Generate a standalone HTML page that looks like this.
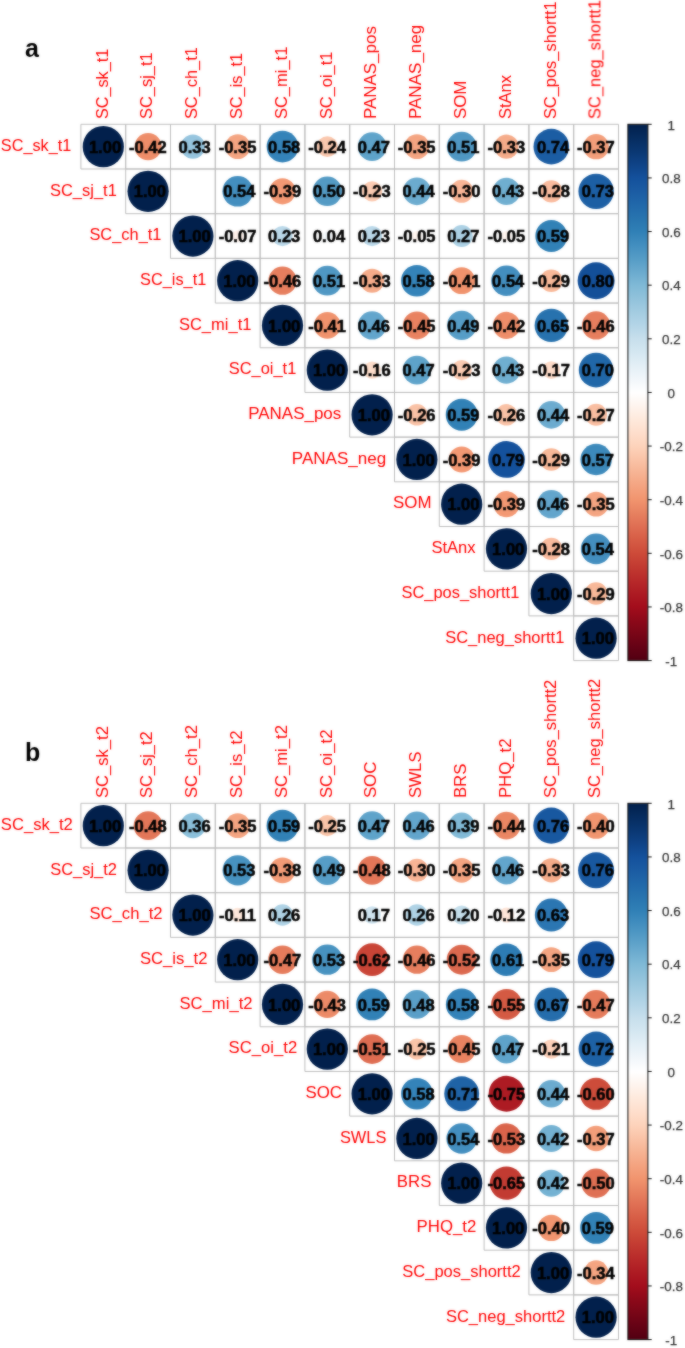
<!DOCTYPE html>
<html><head><meta charset="utf-8"><style>
html,body{margin:0;padding:0;background:#fff;}
svg{display:block;}
text{font-family:"Liberation Sans",sans-serif;}
.n{font-size:16px;font-weight:bold;fill:#000;stroke:#000;stroke-width:0.5px;text-anchor:middle;}
.rl{font-size:16.5px;fill:#FF0000;text-anchor:end;}
.cl{font-size:16.5px;fill:#FF0000;text-anchor:start;}
.cb{font-size:13.4px;fill:#333;stroke:#333;stroke-width:0.25px;text-anchor:middle;}
</style></head><body>
<svg width="685" height="1348" viewBox="0 0 685 1348">
<defs><filter id="soft" color-interpolation-filters="sRGB" x="0" y="0" width="100%" height="100%" filterUnits="userSpaceOnUse"><feGaussianBlur in="SourceGraphic" stdDeviation="0.8" result="b"/><feComposite in="SourceGraphic" in2="b" operator="arithmetic" k1="0" k2="0.5" k3="0.5" k4="0"/></filter><linearGradient id="cb" x1="0" y1="0" x2="0" y2="1"><stop offset="0.000" stop-color="#02204C"/><stop offset="0.025" stop-color="#062C5F"/><stop offset="0.050" stop-color="#0A3772"/><stop offset="0.075" stop-color="#0F4387"/><stop offset="0.100" stop-color="#14519C"/><stop offset="0.125" stop-color="#1B5CA3"/><stop offset="0.150" stop-color="#2168AA"/><stop offset="0.175" stop-color="#2874AF"/><stop offset="0.200" stop-color="#3080B6"/><stop offset="0.225" stop-color="#428EBF"/><stop offset="0.250" stop-color="#559CC6"/><stop offset="0.275" stop-color="#6AAACE"/><stop offset="0.300" stop-color="#7FB9D6"/><stop offset="0.325" stop-color="#91C2DB"/><stop offset="0.350" stop-color="#A3CCE1"/><stop offset="0.375" stop-color="#B4D5E7"/><stop offset="0.400" stop-color="#C7DFEC"/><stop offset="0.425" stop-color="#D4E7F1"/><stop offset="0.450" stop-color="#E3EFF6"/><stop offset="0.475" stop-color="#F1F6FA"/><stop offset="0.500" stop-color="#FFFFFF"/><stop offset="0.525" stop-color="#FEF4EE"/><stop offset="0.550" stop-color="#FEE9DC"/><stop offset="0.575" stop-color="#FEDECC"/><stop offset="0.600" stop-color="#FDD3BB"/><stop offset="0.625" stop-color="#FAC3A7"/><stop offset="0.650" stop-color="#F6B393"/><stop offset="0.675" stop-color="#F4A380"/><stop offset="0.700" stop-color="#F1946E"/><stop offset="0.725" stop-color="#E78160"/><stop offset="0.750" stop-color="#DF6E53"/><stop offset="0.775" stop-color="#D65C45"/><stop offset="0.800" stop-color="#CD4B39"/><stop offset="0.825" stop-color="#C23A31"/><stop offset="0.850" stop-color="#B82A2A"/><stop offset="0.875" stop-color="#AD1B23"/><stop offset="0.900" stop-color="#A30D1C"/><stop offset="0.925" stop-color="#8D0919"/><stop offset="0.950" stop-color="#790617"/><stop offset="0.975" stop-color="#650215"/><stop offset="1.000" stop-color="#520012"/></linearGradient></defs>
<g filter="url(#soft)"><rect width="685" height="1348" fill="#fff"/>
<text x="24.9" y="57" font-size="25" font-weight="bold" fill="#000">a</text>
<path d="M80.90,124.30h44.80v44.69h-44.80zM125.70,124.30h44.80v44.69h-44.80zM170.50,124.30h44.80v44.69h-44.80zM215.30,124.30h44.80v44.69h-44.80zM260.10,124.30h44.80v44.69h-44.80zM304.90,124.30h44.80v44.69h-44.80zM349.70,124.30h44.80v44.69h-44.80zM394.50,124.30h44.80v44.69h-44.80zM439.30,124.30h44.80v44.69h-44.80zM484.10,124.30h44.80v44.69h-44.80zM528.90,124.30h44.80v44.69h-44.80zM573.70,124.30h44.80v44.69h-44.80zM125.70,168.99h44.80v44.69h-44.80zM170.50,168.99h44.80v44.69h-44.80zM215.30,168.99h44.80v44.69h-44.80zM260.10,168.99h44.80v44.69h-44.80zM304.90,168.99h44.80v44.69h-44.80zM349.70,168.99h44.80v44.69h-44.80zM394.50,168.99h44.80v44.69h-44.80zM439.30,168.99h44.80v44.69h-44.80zM484.10,168.99h44.80v44.69h-44.80zM528.90,168.99h44.80v44.69h-44.80zM573.70,168.99h44.80v44.69h-44.80zM170.50,213.68h44.80v44.69h-44.80zM215.30,213.68h44.80v44.69h-44.80zM260.10,213.68h44.80v44.69h-44.80zM304.90,213.68h44.80v44.69h-44.80zM349.70,213.68h44.80v44.69h-44.80zM394.50,213.68h44.80v44.69h-44.80zM439.30,213.68h44.80v44.69h-44.80zM484.10,213.68h44.80v44.69h-44.80zM528.90,213.68h44.80v44.69h-44.80zM573.70,213.68h44.80v44.69h-44.80zM215.30,258.37h44.80v44.69h-44.80zM260.10,258.37h44.80v44.69h-44.80zM304.90,258.37h44.80v44.69h-44.80zM349.70,258.37h44.80v44.69h-44.80zM394.50,258.37h44.80v44.69h-44.80zM439.30,258.37h44.80v44.69h-44.80zM484.10,258.37h44.80v44.69h-44.80zM528.90,258.37h44.80v44.69h-44.80zM573.70,258.37h44.80v44.69h-44.80zM260.10,303.06h44.80v44.69h-44.80zM304.90,303.06h44.80v44.69h-44.80zM349.70,303.06h44.80v44.69h-44.80zM394.50,303.06h44.80v44.69h-44.80zM439.30,303.06h44.80v44.69h-44.80zM484.10,303.06h44.80v44.69h-44.80zM528.90,303.06h44.80v44.69h-44.80zM573.70,303.06h44.80v44.69h-44.80zM304.90,347.75h44.80v44.69h-44.80zM349.70,347.75h44.80v44.69h-44.80zM394.50,347.75h44.80v44.69h-44.80zM439.30,347.75h44.80v44.69h-44.80zM484.10,347.75h44.80v44.69h-44.80zM528.90,347.75h44.80v44.69h-44.80zM573.70,347.75h44.80v44.69h-44.80zM349.70,392.44h44.80v44.69h-44.80zM394.50,392.44h44.80v44.69h-44.80zM439.30,392.44h44.80v44.69h-44.80zM484.10,392.44h44.80v44.69h-44.80zM528.90,392.44h44.80v44.69h-44.80zM573.70,392.44h44.80v44.69h-44.80zM394.50,437.13h44.80v44.69h-44.80zM439.30,437.13h44.80v44.69h-44.80zM484.10,437.13h44.80v44.69h-44.80zM528.90,437.13h44.80v44.69h-44.80zM573.70,437.13h44.80v44.69h-44.80zM439.30,481.82h44.80v44.69h-44.80zM484.10,481.82h44.80v44.69h-44.80zM528.90,481.82h44.80v44.69h-44.80zM573.70,481.82h44.80v44.69h-44.80zM484.10,526.51h44.80v44.69h-44.80zM528.90,526.51h44.80v44.69h-44.80zM573.70,526.51h44.80v44.69h-44.80zM528.90,571.20h44.80v44.69h-44.80zM573.70,571.20h44.80v44.69h-44.80zM573.70,615.89h44.80v44.69h-44.80z" fill="#fff" stroke="#BEBEBE" stroke-width="1"/>
<circle cx="103.30" cy="146.64" r="20.61" fill="#02204C"/>
<circle cx="148.10" cy="146.64" r="13.53" fill="#EE8D69"/>
<circle cx="192.90" cy="146.64" r="12.05" fill="#95C4DE"/>
<circle cx="237.70" cy="146.64" r="12.40" fill="#F4A481"/>
<circle cx="282.50" cy="146.64" r="15.82" fill="#3483B9"/>
<circle cx="327.30" cy="146.64" r="10.35" fill="#FAC7AD"/>
<circle cx="372.10" cy="146.64" r="14.29" fill="#5EA3CA"/>
<circle cx="416.90" cy="146.64" r="12.40" fill="#F4A481"/>
<circle cx="461.70" cy="146.64" r="14.86" fill="#4F97C3"/>
<circle cx="506.50" cy="146.64" r="12.05" fill="#F5AB89"/>
<circle cx="551.30" cy="146.64" r="17.80" fill="#1B5DA3"/>
<circle cx="596.10" cy="146.64" r="12.73" fill="#F39E7A"/>
<circle cx="148.10" cy="191.33" r="20.61" fill="#02204C"/>
<circle cx="237.70" cy="191.33" r="15.28" fill="#438EBF"/>
<circle cx="282.50" cy="191.33" r="13.06" fill="#F39873"/>
<circle cx="327.30" cy="191.33" r="14.72" fill="#539AC4"/>
<circle cx="372.10" cy="191.33" r="10.14" fill="#FBCAB1"/>
<circle cx="416.90" cy="191.33" r="13.84" fill="#6BABCF"/>
<circle cx="461.70" cy="191.33" r="11.51" fill="#F8B495"/>
<circle cx="506.50" cy="191.33" r="13.69" fill="#6FAED0"/>
<circle cx="551.30" cy="191.33" r="11.14" fill="#F9BA9D"/>
<circle cx="596.10" cy="191.33" r="17.68" fill="#1C5FA4"/>
<circle cx="192.90" cy="236.02" r="20.61" fill="#02204C"/>
<circle cx="237.70" cy="236.02" r="5.82" fill="#FEF0E9"/>
<circle cx="282.50" cy="236.02" r="10.14" fill="#BAD8E9"/>
<circle cx="327.30" cy="236.02" r="4.52" fill="#F3F8FB"/>
<circle cx="372.10" cy="236.02" r="10.14" fill="#BAD8E9"/>
<circle cx="416.90" cy="236.02" r="5.00" fill="#FFF5EF"/>
<circle cx="461.70" cy="236.02" r="10.95" fill="#ABD0E4"/>
<circle cx="506.50" cy="236.02" r="5.00" fill="#FFF5EF"/>
<circle cx="551.30" cy="236.02" r="15.95" fill="#3181B6"/>
<circle cx="237.70" cy="280.71" r="20.61" fill="#02204C"/>
<circle cx="282.50" cy="280.71" r="14.14" fill="#E67E5E"/>
<circle cx="327.30" cy="280.71" r="14.86" fill="#4F97C3"/>
<circle cx="372.10" cy="280.71" r="12.05" fill="#F5AB89"/>
<circle cx="416.90" cy="280.71" r="15.82" fill="#3483B9"/>
<circle cx="461.70" cy="280.71" r="13.38" fill="#F0926C"/>
<circle cx="506.50" cy="280.71" r="15.28" fill="#438EBF"/>
<circle cx="551.30" cy="280.71" r="11.33" fill="#F8B898"/>
<circle cx="596.10" cy="280.71" r="18.49" fill="#134F98"/>
<circle cx="282.50" cy="325.40" r="20.61" fill="#02204C"/>
<circle cx="327.30" cy="325.40" r="13.38" fill="#F0926C"/>
<circle cx="372.10" cy="325.40" r="14.14" fill="#62A5CC"/>
<circle cx="416.90" cy="325.40" r="13.99" fill="#E98260"/>
<circle cx="461.70" cy="325.40" r="14.58" fill="#569DC7"/>
<circle cx="506.50" cy="325.40" r="13.53" fill="#EE8D69"/>
<circle cx="551.30" cy="325.40" r="16.71" fill="#2772AE"/>
<circle cx="596.10" cy="325.40" r="14.14" fill="#E67E5E"/>
<circle cx="327.30" cy="370.09" r="20.61" fill="#02204C"/>
<circle cx="372.10" cy="370.09" r="8.54" fill="#FDDCC9"/>
<circle cx="416.90" cy="370.09" r="14.29" fill="#5EA3CA"/>
<circle cx="461.70" cy="370.09" r="10.14" fill="#FBCAB1"/>
<circle cx="506.50" cy="370.09" r="13.69" fill="#6FAED0"/>
<circle cx="551.30" cy="370.09" r="8.79" fill="#FDDAC7"/>
<circle cx="596.10" cy="370.09" r="17.33" fill="#2067A8"/>
<circle cx="372.10" cy="414.79" r="20.61" fill="#02204C"/>
<circle cx="416.90" cy="414.79" r="10.75" fill="#F9C1A5"/>
<circle cx="461.70" cy="414.79" r="15.95" fill="#3181B6"/>
<circle cx="506.50" cy="414.79" r="10.75" fill="#F9C1A5"/>
<circle cx="551.30" cy="414.79" r="13.84" fill="#6BABCF"/>
<circle cx="596.10" cy="414.79" r="10.95" fill="#F9BDA0"/>
<circle cx="416.90" cy="459.47" r="20.61" fill="#02204C"/>
<circle cx="461.70" cy="459.47" r="13.06" fill="#F39873"/>
<circle cx="506.50" cy="459.47" r="18.37" fill="#14519C"/>
<circle cx="551.30" cy="459.47" r="11.33" fill="#F8B898"/>
<circle cx="596.10" cy="459.47" r="15.68" fill="#3C89BB"/>
<circle cx="461.70" cy="504.17" r="20.61" fill="#02204C"/>
<circle cx="506.50" cy="504.17" r="13.06" fill="#F39873"/>
<circle cx="551.30" cy="504.17" r="14.14" fill="#62A5CC"/>
<circle cx="596.10" cy="504.17" r="12.40" fill="#F4A481"/>
<circle cx="506.50" cy="548.85" r="20.61" fill="#02204C"/>
<circle cx="551.30" cy="548.85" r="11.14" fill="#F9BA9D"/>
<circle cx="596.10" cy="548.85" r="15.28" fill="#438EBF"/>
<circle cx="551.30" cy="593.54" r="20.61" fill="#02204C"/>
<circle cx="596.10" cy="593.54" r="11.33" fill="#F8B898"/>
<circle cx="596.10" cy="638.23" r="20.61" fill="#02204C"/>
<text transform="translate(105.00,152.74) scale(1.035,1)" class="n">1.00</text>
<text transform="translate(147.90,152.74) scale(1.035,1)" class="n">-0.42</text>
<text transform="translate(194.60,152.74) scale(1.035,1)" class="n">0.33</text>
<text transform="translate(237.50,152.74) scale(1.035,1)" class="n">-0.35</text>
<text transform="translate(284.20,152.74) scale(1.035,1)" class="n">0.58</text>
<text transform="translate(327.10,152.74) scale(1.035,1)" class="n">-0.24</text>
<text transform="translate(373.80,152.74) scale(1.035,1)" class="n">0.47</text>
<text transform="translate(416.70,152.74) scale(1.035,1)" class="n">-0.35</text>
<text transform="translate(463.40,152.74) scale(1.035,1)" class="n">0.51</text>
<text transform="translate(506.30,152.74) scale(1.035,1)" class="n">-0.33</text>
<text transform="translate(553.00,152.74) scale(1.035,1)" class="n">0.74</text>
<text transform="translate(595.90,152.74) scale(1.035,1)" class="n">-0.37</text>
<text transform="translate(149.80,197.43) scale(1.035,1)" class="n">1.00</text>
<text transform="translate(239.40,197.43) scale(1.035,1)" class="n">0.54</text>
<text transform="translate(282.30,197.43) scale(1.035,1)" class="n">-0.39</text>
<text transform="translate(329.00,197.43) scale(1.035,1)" class="n">0.50</text>
<text transform="translate(371.90,197.43) scale(1.035,1)" class="n">-0.23</text>
<text transform="translate(418.60,197.43) scale(1.035,1)" class="n">0.44</text>
<text transform="translate(461.50,197.43) scale(1.035,1)" class="n">-0.30</text>
<text transform="translate(508.20,197.43) scale(1.035,1)" class="n">0.43</text>
<text transform="translate(551.10,197.43) scale(1.035,1)" class="n">-0.28</text>
<text transform="translate(597.80,197.43) scale(1.035,1)" class="n">0.73</text>
<text transform="translate(194.60,242.12) scale(1.035,1)" class="n">1.00</text>
<text transform="translate(237.50,242.12) scale(1.035,1)" class="n">-0.07</text>
<text transform="translate(284.20,242.12) scale(1.035,1)" class="n">0.23</text>
<text transform="translate(329.00,242.12) scale(1.035,1)" class="n">0.04</text>
<text transform="translate(373.80,242.12) scale(1.035,1)" class="n">0.23</text>
<text transform="translate(416.70,242.12) scale(1.035,1)" class="n">-0.05</text>
<text transform="translate(463.40,242.12) scale(1.035,1)" class="n">0.27</text>
<text transform="translate(506.30,242.12) scale(1.035,1)" class="n">-0.05</text>
<text transform="translate(553.00,242.12) scale(1.035,1)" class="n">0.59</text>
<text transform="translate(239.40,286.81) scale(1.035,1)" class="n">1.00</text>
<text transform="translate(282.30,286.81) scale(1.035,1)" class="n">-0.46</text>
<text transform="translate(329.00,286.81) scale(1.035,1)" class="n">0.51</text>
<text transform="translate(371.90,286.81) scale(1.035,1)" class="n">-0.33</text>
<text transform="translate(418.60,286.81) scale(1.035,1)" class="n">0.58</text>
<text transform="translate(461.50,286.81) scale(1.035,1)" class="n">-0.41</text>
<text transform="translate(508.20,286.81) scale(1.035,1)" class="n">0.54</text>
<text transform="translate(551.10,286.81) scale(1.035,1)" class="n">-0.29</text>
<text transform="translate(597.80,286.81) scale(1.035,1)" class="n">0.80</text>
<text transform="translate(284.20,331.50) scale(1.035,1)" class="n">1.00</text>
<text transform="translate(327.10,331.50) scale(1.035,1)" class="n">-0.41</text>
<text transform="translate(373.80,331.50) scale(1.035,1)" class="n">0.46</text>
<text transform="translate(416.70,331.50) scale(1.035,1)" class="n">-0.45</text>
<text transform="translate(463.40,331.50) scale(1.035,1)" class="n">0.49</text>
<text transform="translate(506.30,331.50) scale(1.035,1)" class="n">-0.42</text>
<text transform="translate(553.00,331.50) scale(1.035,1)" class="n">0.65</text>
<text transform="translate(595.90,331.50) scale(1.035,1)" class="n">-0.46</text>
<text transform="translate(329.00,376.19) scale(1.035,1)" class="n">1.00</text>
<text transform="translate(371.90,376.19) scale(1.035,1)" class="n">-0.16</text>
<text transform="translate(418.60,376.19) scale(1.035,1)" class="n">0.47</text>
<text transform="translate(461.50,376.19) scale(1.035,1)" class="n">-0.23</text>
<text transform="translate(508.20,376.19) scale(1.035,1)" class="n">0.43</text>
<text transform="translate(551.10,376.19) scale(1.035,1)" class="n">-0.17</text>
<text transform="translate(597.80,376.19) scale(1.035,1)" class="n">0.70</text>
<text transform="translate(373.80,420.89) scale(1.035,1)" class="n">1.00</text>
<text transform="translate(416.70,420.89) scale(1.035,1)" class="n">-0.26</text>
<text transform="translate(463.40,420.89) scale(1.035,1)" class="n">0.59</text>
<text transform="translate(506.30,420.89) scale(1.035,1)" class="n">-0.26</text>
<text transform="translate(553.00,420.89) scale(1.035,1)" class="n">0.44</text>
<text transform="translate(595.90,420.89) scale(1.035,1)" class="n">-0.27</text>
<text transform="translate(418.60,465.57) scale(1.035,1)" class="n">1.00</text>
<text transform="translate(461.50,465.57) scale(1.035,1)" class="n">-0.39</text>
<text transform="translate(508.20,465.57) scale(1.035,1)" class="n">0.79</text>
<text transform="translate(551.10,465.57) scale(1.035,1)" class="n">-0.29</text>
<text transform="translate(597.80,465.57) scale(1.035,1)" class="n">0.57</text>
<text transform="translate(463.40,510.27) scale(1.035,1)" class="n">1.00</text>
<text transform="translate(506.30,510.27) scale(1.035,1)" class="n">-0.39</text>
<text transform="translate(553.00,510.27) scale(1.035,1)" class="n">0.46</text>
<text transform="translate(595.90,510.27) scale(1.035,1)" class="n">-0.35</text>
<text transform="translate(508.20,554.95) scale(1.035,1)" class="n">1.00</text>
<text transform="translate(551.10,554.95) scale(1.035,1)" class="n">-0.28</text>
<text transform="translate(597.80,554.95) scale(1.035,1)" class="n">0.54</text>
<text transform="translate(553.00,599.64) scale(1.035,1)" class="n">1.00</text>
<text transform="translate(595.90,599.64) scale(1.035,1)" class="n">-0.29</text>
<text transform="translate(597.80,644.33) scale(1.035,1)" class="n">1.00</text>
<text x="71.23" y="150.94" class="rl" textLength="70.39" lengthAdjust="spacingAndGlyphs">SC_sk_t1</text>
<text x="116.80" y="195.63" class="rl" textLength="66.77" lengthAdjust="spacingAndGlyphs">SC_sj_t1</text>
<text x="161.43" y="240.32" class="rl" textLength="72.00" lengthAdjust="spacingAndGlyphs">SC_ch_t1</text>
<text x="206.29" y="285.01" class="rl" textLength="66.25" lengthAdjust="spacingAndGlyphs">SC_is_t1</text>
<text x="251.42" y="329.70" class="rl" textLength="72.50" lengthAdjust="spacingAndGlyphs">SC_mi_t1</text>
<text x="296.29" y="374.39" class="rl" textLength="67.56" lengthAdjust="spacingAndGlyphs">SC_oi_t1</text>
<text x="341.23" y="419.09" class="rl" textLength="92.96" lengthAdjust="spacingAndGlyphs">PANAS_pos</text>
<text x="386.26" y="463.77" class="rl" textLength="94.39" lengthAdjust="spacingAndGlyphs">PANAS_neg</text>
<text x="431.57" y="508.47" class="rl" textLength="38.46" lengthAdjust="spacingAndGlyphs">SOM</text>
<text x="475.64" y="553.15" class="rl" textLength="44.22" lengthAdjust="spacingAndGlyphs">StAnx</text>
<text x="519.31" y="597.84" class="rl" textLength="117.78" lengthAdjust="spacingAndGlyphs">SC_pos_shortt1</text>
<text x="564.31" y="642.53" class="rl" textLength="119.08" lengthAdjust="spacingAndGlyphs">SC_neg_shortt1</text>
<text transform="translate(107.60,119.10) rotate(-90)" class="cl" textLength="70.39" lengthAdjust="spacingAndGlyphs">SC_sk_t1</text>
<text transform="translate(152.40,119.10) rotate(-90)" class="cl" textLength="66.77" lengthAdjust="spacingAndGlyphs">SC_sj_t1</text>
<text transform="translate(197.20,119.10) rotate(-90)" class="cl" textLength="72.00" lengthAdjust="spacingAndGlyphs">SC_ch_t1</text>
<text transform="translate(242.00,119.10) rotate(-90)" class="cl" textLength="66.25" lengthAdjust="spacingAndGlyphs">SC_is_t1</text>
<text transform="translate(286.80,119.10) rotate(-90)" class="cl" textLength="72.50" lengthAdjust="spacingAndGlyphs">SC_mi_t1</text>
<text transform="translate(331.60,119.10) rotate(-90)" class="cl" textLength="67.56" lengthAdjust="spacingAndGlyphs">SC_oi_t1</text>
<text transform="translate(376.40,119.10) rotate(-90)" class="cl" textLength="92.96" lengthAdjust="spacingAndGlyphs">PANAS_pos</text>
<text transform="translate(421.20,119.10) rotate(-90)" class="cl" textLength="94.39" lengthAdjust="spacingAndGlyphs">PANAS_neg</text>
<text transform="translate(466.00,119.10) rotate(-90)" class="cl" textLength="38.46" lengthAdjust="spacingAndGlyphs">SOM</text>
<text transform="translate(510.80,119.10) rotate(-90)" class="cl" textLength="44.22" lengthAdjust="spacingAndGlyphs">StAnx</text>
<text transform="translate(555.60,119.10) rotate(-90)" class="cl" textLength="117.78" lengthAdjust="spacingAndGlyphs">SC_pos_shortt1</text>
<text transform="translate(600.40,119.10) rotate(-90)" class="cl" textLength="119.08" lengthAdjust="spacingAndGlyphs">SC_neg_shortt1</text>
<rect x="627.9" y="124.30" width="20.00" height="536.28" fill="url(#cb)" stroke="#111" stroke-width="1"/>
<text x="671.3" y="129.60" class="cb">1</text>
<text x="671.3" y="183.23" class="cb">0.8</text>
<text x="671.3" y="236.86" class="cb">0.6</text>
<text x="671.3" y="290.48" class="cb">0.4</text>
<text x="671.3" y="344.11" class="cb">0.2</text>
<text x="671.3" y="397.74" class="cb">0</text>
<text x="671.3" y="451.37" class="cb">-0.2</text>
<text x="671.3" y="505.00" class="cb">-0.4</text>
<text x="671.3" y="558.62" class="cb">-0.6</text>
<text x="671.3" y="612.25" class="cb">-0.8</text>
<text x="671.3" y="665.88" class="cb">-1</text>
<path d="M647.90,124.30h3.8M647.90,177.93h3.8M647.90,231.56h3.8M647.90,285.18h3.8M647.90,338.81h3.8M647.90,392.44h3.8M647.90,446.07h3.8M647.90,499.70h3.8M647.90,553.32h3.8M647.90,606.95h3.8M647.90,660.58h3.8" stroke="#111" stroke-width="1"/>
<text x="24.9" y="760.7" font-size="25" font-weight="bold" fill="#000">b</text>
<path d="M80.90,803.30h44.80v44.69h-44.80zM125.70,803.30h44.80v44.69h-44.80zM170.50,803.30h44.80v44.69h-44.80zM215.30,803.30h44.80v44.69h-44.80zM260.10,803.30h44.80v44.69h-44.80zM304.90,803.30h44.80v44.69h-44.80zM349.70,803.30h44.80v44.69h-44.80zM394.50,803.30h44.80v44.69h-44.80zM439.30,803.30h44.80v44.69h-44.80zM484.10,803.30h44.80v44.69h-44.80zM528.90,803.30h44.80v44.69h-44.80zM573.70,803.30h44.80v44.69h-44.80zM125.70,847.99h44.80v44.69h-44.80zM170.50,847.99h44.80v44.69h-44.80zM215.30,847.99h44.80v44.69h-44.80zM260.10,847.99h44.80v44.69h-44.80zM304.90,847.99h44.80v44.69h-44.80zM349.70,847.99h44.80v44.69h-44.80zM394.50,847.99h44.80v44.69h-44.80zM439.30,847.99h44.80v44.69h-44.80zM484.10,847.99h44.80v44.69h-44.80zM528.90,847.99h44.80v44.69h-44.80zM573.70,847.99h44.80v44.69h-44.80zM170.50,892.68h44.80v44.69h-44.80zM215.30,892.68h44.80v44.69h-44.80zM260.10,892.68h44.80v44.69h-44.80zM304.90,892.68h44.80v44.69h-44.80zM349.70,892.68h44.80v44.69h-44.80zM394.50,892.68h44.80v44.69h-44.80zM439.30,892.68h44.80v44.69h-44.80zM484.10,892.68h44.80v44.69h-44.80zM528.90,892.68h44.80v44.69h-44.80zM573.70,892.68h44.80v44.69h-44.80zM215.30,937.37h44.80v44.69h-44.80zM260.10,937.37h44.80v44.69h-44.80zM304.90,937.37h44.80v44.69h-44.80zM349.70,937.37h44.80v44.69h-44.80zM394.50,937.37h44.80v44.69h-44.80zM439.30,937.37h44.80v44.69h-44.80zM484.10,937.37h44.80v44.69h-44.80zM528.90,937.37h44.80v44.69h-44.80zM573.70,937.37h44.80v44.69h-44.80zM260.10,982.06h44.80v44.69h-44.80zM304.90,982.06h44.80v44.69h-44.80zM349.70,982.06h44.80v44.69h-44.80zM394.50,982.06h44.80v44.69h-44.80zM439.30,982.06h44.80v44.69h-44.80zM484.10,982.06h44.80v44.69h-44.80zM528.90,982.06h44.80v44.69h-44.80zM573.70,982.06h44.80v44.69h-44.80zM304.90,1026.75h44.80v44.69h-44.80zM349.70,1026.75h44.80v44.69h-44.80zM394.50,1026.75h44.80v44.69h-44.80zM439.30,1026.75h44.80v44.69h-44.80zM484.10,1026.75h44.80v44.69h-44.80zM528.90,1026.75h44.80v44.69h-44.80zM573.70,1026.75h44.80v44.69h-44.80zM349.70,1071.44h44.80v44.69h-44.80zM394.50,1071.44h44.80v44.69h-44.80zM439.30,1071.44h44.80v44.69h-44.80zM484.10,1071.44h44.80v44.69h-44.80zM528.90,1071.44h44.80v44.69h-44.80zM573.70,1071.44h44.80v44.69h-44.80zM394.50,1116.13h44.80v44.69h-44.80zM439.30,1116.13h44.80v44.69h-44.80zM484.10,1116.13h44.80v44.69h-44.80zM528.90,1116.13h44.80v44.69h-44.80zM573.70,1116.13h44.80v44.69h-44.80zM439.30,1160.82h44.80v44.69h-44.80zM484.10,1160.82h44.80v44.69h-44.80zM528.90,1160.82h44.80v44.69h-44.80zM573.70,1160.82h44.80v44.69h-44.80zM484.10,1205.51h44.80v44.69h-44.80zM528.90,1205.51h44.80v44.69h-44.80zM573.70,1205.51h44.80v44.69h-44.80zM528.90,1250.20h44.80v44.69h-44.80zM573.70,1250.20h44.80v44.69h-44.80zM573.70,1294.89h44.80v44.69h-44.80z" fill="#fff" stroke="#BEBEBE" stroke-width="1"/>
<circle cx="103.30" cy="825.64" r="20.61" fill="#02204C"/>
<circle cx="148.10" cy="825.64" r="14.43" fill="#E37658"/>
<circle cx="192.90" cy="825.64" r="12.57" fill="#8ABFDA"/>
<circle cx="237.70" cy="825.64" r="12.40" fill="#F4A481"/>
<circle cx="282.50" cy="825.64" r="15.95" fill="#3181B6"/>
<circle cx="327.30" cy="825.64" r="10.56" fill="#FAC4A8"/>
<circle cx="372.10" cy="825.64" r="14.29" fill="#5EA3CA"/>
<circle cx="416.90" cy="825.64" r="14.14" fill="#62A5CC"/>
<circle cx="461.70" cy="825.64" r="13.06" fill="#80B9D6"/>
<circle cx="506.50" cy="825.64" r="13.84" fill="#EA8663"/>
<circle cx="551.30" cy="825.64" r="18.03" fill="#1858A0"/>
<circle cx="596.10" cy="825.64" r="13.22" fill="#F1956F"/>
<circle cx="148.10" cy="870.33" r="20.61" fill="#02204C"/>
<circle cx="237.70" cy="870.33" r="15.14" fill="#4792C0"/>
<circle cx="282.50" cy="870.33" r="12.90" fill="#F39B76"/>
<circle cx="327.30" cy="870.33" r="14.58" fill="#569DC7"/>
<circle cx="372.10" cy="870.33" r="14.43" fill="#E37658"/>
<circle cx="416.90" cy="870.33" r="11.51" fill="#F8B495"/>
<circle cx="461.70" cy="870.33" r="12.40" fill="#F4A481"/>
<circle cx="506.50" cy="870.33" r="14.14" fill="#62A5CC"/>
<circle cx="551.30" cy="870.33" r="12.05" fill="#F5AB89"/>
<circle cx="596.10" cy="870.33" r="18.03" fill="#1858A0"/>
<circle cx="192.90" cy="915.02" r="20.61" fill="#02204C"/>
<circle cx="237.70" cy="915.02" r="7.17" fill="#FEE7DA"/>
<circle cx="282.50" cy="915.02" r="10.75" fill="#AED2E5"/>
<circle cx="372.10" cy="915.02" r="8.79" fill="#CEE3EF"/>
<circle cx="416.90" cy="915.02" r="10.75" fill="#AED2E5"/>
<circle cx="461.70" cy="915.02" r="9.49" fill="#C4DEEB"/>
<circle cx="506.50" cy="915.02" r="7.47" fill="#FEE5D8"/>
<circle cx="551.30" cy="915.02" r="16.46" fill="#2B76B2"/>
<circle cx="237.70" cy="959.71" r="20.61" fill="#02204C"/>
<circle cx="282.50" cy="959.71" r="14.29" fill="#E57B5B"/>
<circle cx="327.30" cy="959.71" r="15.14" fill="#4792C0"/>
<circle cx="372.10" cy="959.71" r="16.34" fill="#C94436"/>
<circle cx="416.90" cy="959.71" r="14.14" fill="#E67E5E"/>
<circle cx="461.70" cy="959.71" r="15.00" fill="#DB684E"/>
<circle cx="506.50" cy="959.71" r="16.21" fill="#2D7CB4"/>
<circle cx="551.30" cy="959.71" r="12.40" fill="#F4A481"/>
<circle cx="596.10" cy="959.71" r="18.37" fill="#14519C"/>
<circle cx="282.50" cy="1004.40" r="20.61" fill="#02204C"/>
<circle cx="327.30" cy="1004.40" r="13.69" fill="#EC8A67"/>
<circle cx="372.10" cy="1004.40" r="15.95" fill="#3181B6"/>
<circle cx="416.90" cy="1004.40" r="14.43" fill="#5A9FC8"/>
<circle cx="461.70" cy="1004.40" r="15.82" fill="#3483B9"/>
<circle cx="506.50" cy="1004.40" r="15.41" fill="#D45A43"/>
<circle cx="551.30" cy="1004.40" r="16.96" fill="#256DAC"/>
<circle cx="596.10" cy="1004.40" r="14.29" fill="#E57B5B"/>
<circle cx="327.30" cy="1049.10" r="20.61" fill="#02204C"/>
<circle cx="372.10" cy="1049.10" r="14.86" fill="#DE6C51"/>
<circle cx="416.90" cy="1049.10" r="10.56" fill="#FAC4A8"/>
<circle cx="461.70" cy="1049.10" r="13.99" fill="#E98260"/>
<circle cx="506.50" cy="1049.10" r="14.29" fill="#5EA3CA"/>
<circle cx="551.30" cy="1049.10" r="9.72" fill="#FDD0B9"/>
<circle cx="596.10" cy="1049.10" r="17.56" fill="#1D61A5"/>
<circle cx="372.10" cy="1093.78" r="20.61" fill="#02204C"/>
<circle cx="416.90" cy="1093.78" r="15.82" fill="#3483B9"/>
<circle cx="461.70" cy="1093.78" r="17.45" fill="#1F63A6"/>
<circle cx="506.50" cy="1093.78" r="17.92" fill="#AD1B23"/>
<circle cx="551.30" cy="1093.78" r="13.84" fill="#6BABCF"/>
<circle cx="596.10" cy="1093.78" r="16.08" fill="#CD4C3A"/>
<circle cx="416.90" cy="1138.47" r="20.61" fill="#02204C"/>
<circle cx="461.70" cy="1138.47" r="15.28" fill="#438EBF"/>
<circle cx="506.50" cy="1138.47" r="15.14" fill="#DA644B"/>
<circle cx="551.30" cy="1138.47" r="13.53" fill="#73B1D2"/>
<circle cx="596.10" cy="1138.47" r="12.73" fill="#F39E7A"/>
<circle cx="461.70" cy="1183.16" r="20.61" fill="#02204C"/>
<circle cx="506.50" cy="1183.16" r="16.71" fill="#C23B32"/>
<circle cx="551.30" cy="1183.16" r="13.53" fill="#73B1D2"/>
<circle cx="596.10" cy="1183.16" r="14.72" fill="#DF6F53"/>
<circle cx="506.50" cy="1227.86" r="20.61" fill="#02204C"/>
<circle cx="551.30" cy="1227.86" r="13.22" fill="#F1956F"/>
<circle cx="596.10" cy="1227.86" r="15.95" fill="#3181B6"/>
<circle cx="551.30" cy="1272.55" r="20.61" fill="#02204C"/>
<circle cx="596.10" cy="1272.55" r="12.23" fill="#F4A481"/>
<circle cx="596.10" cy="1317.23" r="20.61" fill="#02204C"/>
<text transform="translate(105.00,831.75) scale(1.035,1)" class="n">1.00</text>
<text transform="translate(147.90,831.75) scale(1.035,1)" class="n">-0.48</text>
<text transform="translate(194.60,831.75) scale(1.035,1)" class="n">0.36</text>
<text transform="translate(237.50,831.75) scale(1.035,1)" class="n">-0.35</text>
<text transform="translate(284.20,831.75) scale(1.035,1)" class="n">0.59</text>
<text transform="translate(327.10,831.75) scale(1.035,1)" class="n">-0.25</text>
<text transform="translate(373.80,831.75) scale(1.035,1)" class="n">0.47</text>
<text transform="translate(418.60,831.75) scale(1.035,1)" class="n">0.46</text>
<text transform="translate(463.40,831.75) scale(1.035,1)" class="n">0.39</text>
<text transform="translate(506.30,831.75) scale(1.035,1)" class="n">-0.44</text>
<text transform="translate(553.00,831.75) scale(1.035,1)" class="n">0.76</text>
<text transform="translate(595.90,831.75) scale(1.035,1)" class="n">-0.40</text>
<text transform="translate(149.80,876.43) scale(1.035,1)" class="n">1.00</text>
<text transform="translate(239.40,876.43) scale(1.035,1)" class="n">0.53</text>
<text transform="translate(282.30,876.43) scale(1.035,1)" class="n">-0.38</text>
<text transform="translate(329.00,876.43) scale(1.035,1)" class="n">0.49</text>
<text transform="translate(371.90,876.43) scale(1.035,1)" class="n">-0.48</text>
<text transform="translate(416.70,876.43) scale(1.035,1)" class="n">-0.30</text>
<text transform="translate(461.50,876.43) scale(1.035,1)" class="n">-0.35</text>
<text transform="translate(508.20,876.43) scale(1.035,1)" class="n">0.46</text>
<text transform="translate(551.10,876.43) scale(1.035,1)" class="n">-0.33</text>
<text transform="translate(597.80,876.43) scale(1.035,1)" class="n">0.76</text>
<text transform="translate(194.60,921.12) scale(1.035,1)" class="n">1.00</text>
<text transform="translate(237.50,921.12) scale(1.035,1)" class="n">-0.11</text>
<text transform="translate(284.20,921.12) scale(1.035,1)" class="n">0.26</text>
<text transform="translate(373.80,921.12) scale(1.035,1)" class="n">0.17</text>
<text transform="translate(418.60,921.12) scale(1.035,1)" class="n">0.26</text>
<text transform="translate(463.40,921.12) scale(1.035,1)" class="n">0.20</text>
<text transform="translate(506.30,921.12) scale(1.035,1)" class="n">-0.12</text>
<text transform="translate(553.00,921.12) scale(1.035,1)" class="n">0.63</text>
<text transform="translate(239.40,965.81) scale(1.035,1)" class="n">1.00</text>
<text transform="translate(282.30,965.81) scale(1.035,1)" class="n">-0.47</text>
<text transform="translate(329.00,965.81) scale(1.035,1)" class="n">0.53</text>
<text transform="translate(371.90,965.81) scale(1.035,1)" class="n">-0.62</text>
<text transform="translate(416.70,965.81) scale(1.035,1)" class="n">-0.46</text>
<text transform="translate(461.50,965.81) scale(1.035,1)" class="n">-0.52</text>
<text transform="translate(508.20,965.81) scale(1.035,1)" class="n">0.61</text>
<text transform="translate(551.10,965.81) scale(1.035,1)" class="n">-0.35</text>
<text transform="translate(597.80,965.81) scale(1.035,1)" class="n">0.79</text>
<text transform="translate(284.20,1010.50) scale(1.035,1)" class="n">1.00</text>
<text transform="translate(327.10,1010.50) scale(1.035,1)" class="n">-0.43</text>
<text transform="translate(373.80,1010.50) scale(1.035,1)" class="n">0.59</text>
<text transform="translate(418.60,1010.50) scale(1.035,1)" class="n">0.48</text>
<text transform="translate(463.40,1010.50) scale(1.035,1)" class="n">0.58</text>
<text transform="translate(506.30,1010.50) scale(1.035,1)" class="n">-0.55</text>
<text transform="translate(553.00,1010.50) scale(1.035,1)" class="n">0.67</text>
<text transform="translate(595.90,1010.50) scale(1.035,1)" class="n">-0.47</text>
<text transform="translate(329.00,1055.19) scale(1.035,1)" class="n">1.00</text>
<text transform="translate(371.90,1055.19) scale(1.035,1)" class="n">-0.51</text>
<text transform="translate(416.70,1055.19) scale(1.035,1)" class="n">-0.25</text>
<text transform="translate(461.50,1055.19) scale(1.035,1)" class="n">-0.45</text>
<text transform="translate(508.20,1055.19) scale(1.035,1)" class="n">0.47</text>
<text transform="translate(551.10,1055.19) scale(1.035,1)" class="n">-0.21</text>
<text transform="translate(597.80,1055.19) scale(1.035,1)" class="n">0.72</text>
<text transform="translate(373.80,1099.88) scale(1.035,1)" class="n">1.00</text>
<text transform="translate(418.60,1099.88) scale(1.035,1)" class="n">0.58</text>
<text transform="translate(463.40,1099.88) scale(1.035,1)" class="n">0.71</text>
<text transform="translate(506.30,1099.88) scale(1.035,1)" class="n">-0.75</text>
<text transform="translate(553.00,1099.88) scale(1.035,1)" class="n">0.44</text>
<text transform="translate(595.90,1099.88) scale(1.035,1)" class="n">-0.60</text>
<text transform="translate(418.60,1144.57) scale(1.035,1)" class="n">1.00</text>
<text transform="translate(463.40,1144.57) scale(1.035,1)" class="n">0.54</text>
<text transform="translate(506.30,1144.57) scale(1.035,1)" class="n">-0.53</text>
<text transform="translate(553.00,1144.57) scale(1.035,1)" class="n">0.42</text>
<text transform="translate(595.90,1144.57) scale(1.035,1)" class="n">-0.37</text>
<text transform="translate(463.40,1189.26) scale(1.035,1)" class="n">1.00</text>
<text transform="translate(506.30,1189.26) scale(1.035,1)" class="n">-0.65</text>
<text transform="translate(553.00,1189.26) scale(1.035,1)" class="n">0.42</text>
<text transform="translate(595.90,1189.26) scale(1.035,1)" class="n">-0.50</text>
<text transform="translate(508.20,1233.95) scale(1.035,1)" class="n">1.00</text>
<text transform="translate(551.10,1233.95) scale(1.035,1)" class="n">-0.40</text>
<text transform="translate(597.80,1233.95) scale(1.035,1)" class="n">0.59</text>
<text transform="translate(553.00,1278.64) scale(1.035,1)" class="n">1.00</text>
<text transform="translate(595.90,1278.64) scale(1.035,1)" class="n">-0.34</text>
<text transform="translate(597.80,1323.33) scale(1.035,1)" class="n">1.00</text>
<text x="72.85" y="829.94" class="rl" textLength="72.02" lengthAdjust="spacingAndGlyphs">SC_sk_t2</text>
<text x="117.00" y="874.63" class="rl" textLength="66.77" lengthAdjust="spacingAndGlyphs">SC_sj_t2</text>
<text x="162.55" y="919.32" class="rl" textLength="73.02" lengthAdjust="spacingAndGlyphs">SC_ch_t2</text>
<text x="207.51" y="964.01" class="rl" textLength="67.58" lengthAdjust="spacingAndGlyphs">SC_is_t2</text>
<text x="252.53" y="1008.70" class="rl" textLength="73.01" lengthAdjust="spacingAndGlyphs">SC_mi_t2</text>
<text x="297.20" y="1053.39" class="rl" textLength="68.58" lengthAdjust="spacingAndGlyphs">SC_oi_t2</text>
<text x="341.96" y="1098.08" class="rl" textLength="36.44" lengthAdjust="spacingAndGlyphs">SOC</text>
<text x="386.41" y="1142.77" class="rl" textLength="46.48" lengthAdjust="spacingAndGlyphs">SWLS</text>
<text x="431.39" y="1187.46" class="rl" textLength="34.50" lengthAdjust="spacingAndGlyphs">BRS</text>
<text x="476.30" y="1232.15" class="rl" textLength="59.72" lengthAdjust="spacingAndGlyphs">PHQ_t2</text>
<text x="520.71" y="1276.85" class="rl" textLength="118.38" lengthAdjust="spacingAndGlyphs">SC_pos_shortt2</text>
<text x="565.31" y="1321.53" class="rl" textLength="119.38" lengthAdjust="spacingAndGlyphs">SC_neg_shortt2</text>
<text transform="translate(107.60,798.10) rotate(-90)" class="cl" textLength="72.02" lengthAdjust="spacingAndGlyphs">SC_sk_t2</text>
<text transform="translate(152.40,798.10) rotate(-90)" class="cl" textLength="66.77" lengthAdjust="spacingAndGlyphs">SC_sj_t2</text>
<text transform="translate(197.20,798.10) rotate(-90)" class="cl" textLength="73.02" lengthAdjust="spacingAndGlyphs">SC_ch_t2</text>
<text transform="translate(242.00,798.10) rotate(-90)" class="cl" textLength="67.58" lengthAdjust="spacingAndGlyphs">SC_is_t2</text>
<text transform="translate(286.80,798.10) rotate(-90)" class="cl" textLength="73.01" lengthAdjust="spacingAndGlyphs">SC_mi_t2</text>
<text transform="translate(331.60,798.10) rotate(-90)" class="cl" textLength="68.58" lengthAdjust="spacingAndGlyphs">SC_oi_t2</text>
<text transform="translate(376.40,798.10) rotate(-90)" class="cl" textLength="36.44" lengthAdjust="spacingAndGlyphs">SOC</text>
<text transform="translate(421.20,798.10) rotate(-90)" class="cl" textLength="46.48" lengthAdjust="spacingAndGlyphs">SWLS</text>
<text transform="translate(466.00,798.10) rotate(-90)" class="cl" textLength="34.50" lengthAdjust="spacingAndGlyphs">BRS</text>
<text transform="translate(510.80,798.10) rotate(-90)" class="cl" textLength="59.72" lengthAdjust="spacingAndGlyphs">PHQ_t2</text>
<text transform="translate(555.60,798.10) rotate(-90)" class="cl" textLength="118.38" lengthAdjust="spacingAndGlyphs">SC_pos_shortt2</text>
<text transform="translate(600.40,798.10) rotate(-90)" class="cl" textLength="119.38" lengthAdjust="spacingAndGlyphs">SC_neg_shortt2</text>
<rect x="627.9" y="803.30" width="20.00" height="536.28" fill="url(#cb)" stroke="#111" stroke-width="1"/>
<text x="671.3" y="808.60" class="cb">1</text>
<text x="671.3" y="862.23" class="cb">0.8</text>
<text x="671.3" y="915.86" class="cb">0.6</text>
<text x="671.3" y="969.48" class="cb">0.4</text>
<text x="671.3" y="1023.11" class="cb">0.2</text>
<text x="671.3" y="1076.74" class="cb">0</text>
<text x="671.3" y="1130.37" class="cb">-0.2</text>
<text x="671.3" y="1184.00" class="cb">-0.4</text>
<text x="671.3" y="1237.62" class="cb">-0.6</text>
<text x="671.3" y="1291.25" class="cb">-0.8</text>
<text x="671.3" y="1344.88" class="cb">-1</text>
<path d="M647.90,803.30h3.8M647.90,856.93h3.8M647.90,910.56h3.8M647.90,964.18h3.8M647.90,1017.81h3.8M647.90,1071.44h3.8M647.90,1125.07h3.8M647.90,1178.70h3.8M647.90,1232.32h3.8M647.90,1285.95h3.8M647.90,1339.58h3.8" stroke="#111" stroke-width="1"/>
</g>
</svg>
</body></html>
